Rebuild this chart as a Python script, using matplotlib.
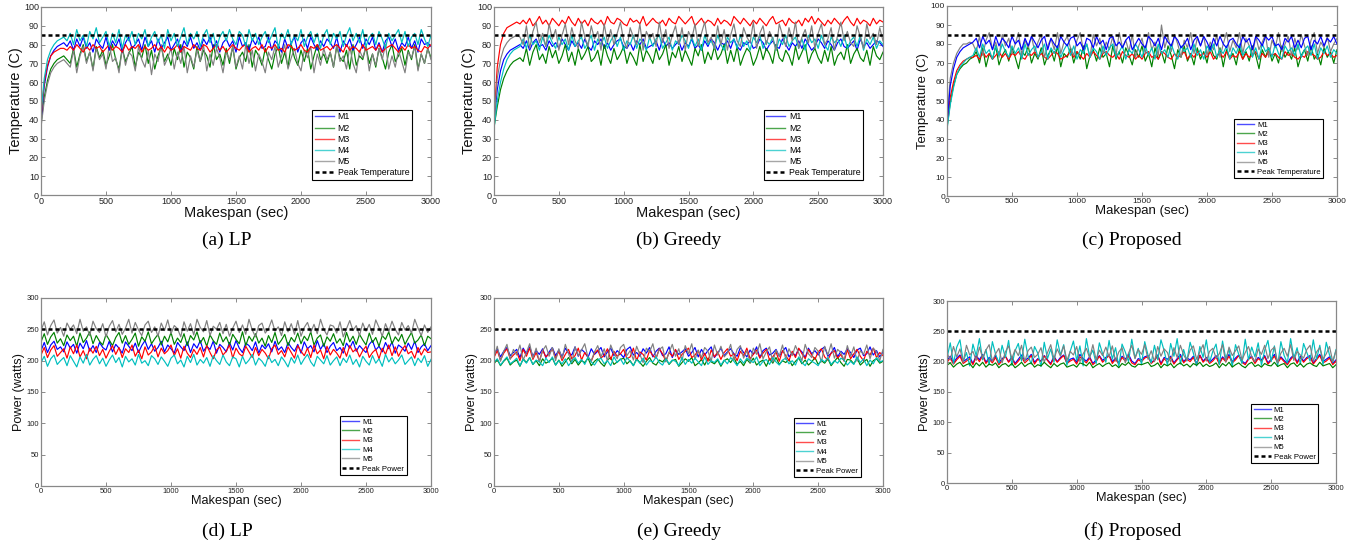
import matplotlib
matplotlib.use("Agg")
import matplotlib.pyplot as plt

plt.rcParams['font.family'] = ['Liberation Sans', 'DejaVu Sans']

# sample times (sec)
t_temp = list(range(0, 3001, 25))
t_pow = list(range(0, 3001, 25))

names = ['M1', 'M2', 'M3', 'M4', 'M5']
colors = ['#0000ff', '#008000', '#ff0000', '#00bfbf', '#808080']
peak_temp = 85
peak_pow = 250

# ---- (a) LP temperature ----
lp_t_m1 = [40, 58, 68, 74, 77, 79, 80, 81, 79,
           82, 77, 83, 79, 84, 78, 81, 76, 83, 80,
           78, 84, 77, 82, 79, 83, 76, 81, 84, 78,
           80, 83, 77, 84, 79, 82, 76, 83, 78, 81,
           84, 77, 80, 83, 76, 82, 79, 84, 78, 81,
           77, 83, 80, 84, 78, 82, 76, 81, 83, 79,
           82, 76, 84, 79, 81, 77, 83, 80, 84, 78,
           79, 84, 77, 82, 80, 76, 83, 78, 81, 84,
           76, 81, 83, 78, 84, 80, 77, 82, 79, 83,
           81, 78, 84, 76, 82, 79, 83, 77, 80, 84,
           78, 83, 80, 84, 77, 81, 76, 82, 84, 79,
           83, 77, 81, 79, 84, 78, 82, 76, 83, 80,
           81, 79]
lp_t_m2 = [38, 52, 61, 67, 70, 72, 73, 74, 72,
           70, 78, 68, 75, 80, 71, 76, 67, 79, 73,
           77, 69, 74, 80, 72, 67, 78, 71, 75, 79,
           68, 76, 73, 80, 70, 77, 67, 74, 79, 71,
           75, 69, 78, 72, 80, 68, 76, 73, 67, 79,
           71, 77, 74, 68, 80, 72, 75, 69, 78, 70,
           79, 67, 73, 76, 71, 80, 68, 77, 74, 69,
           78, 72, 67, 75, 79, 70, 76, 68, 80, 73,
           69, 77, 71, 78, 67, 74, 80, 72, 75, 70,
           76, 68, 79, 73, 71, 77, 67, 80, 69, 74,
           72, 79, 70, 75, 68, 78, 73, 67, 76, 80,
           71, 74, 78, 69, 77, 72, 80, 67, 75, 70,
           78, 73]
lp_t_m3 = [41, 60, 69, 74, 76, 77, 78, 78, 77,
           79, 77, 80, 78, 76, 79, 77, 80, 78, 79,
           76, 78, 80, 77, 79, 78, 76, 80, 77, 79,
           78, 80, 76, 79, 77, 78, 80, 77, 79, 76,
           79, 77, 78, 80, 76, 79, 78, 77, 80, 78,
           77, 80, 79, 76, 78, 80, 77, 79, 76, 78,
           80, 78, 77, 79, 80, 76, 78, 79, 77, 80,
           76, 79, 78, 80, 77, 78, 76, 80, 79, 77,
           78, 80, 77, 76, 79, 78, 80, 77, 78, 79,
           77, 79, 80, 78, 76, 80, 77, 79, 78, 76,
           80, 77, 78, 79, 77, 80, 76, 78, 79, 80,
           78, 76, 79, 77, 80, 78, 79, 77, 76, 79,
           78, 80]
lp_t_m4 = [43, 62, 72, 77, 80, 82, 83, 84, 82,
           86, 80, 88, 82, 85, 79, 87, 83, 89, 81,
           84, 87, 79, 86, 81, 88, 78, 85, 82, 87,
           80, 86, 83, 88, 79, 84, 87, 81, 85, 78,
           88, 82, 86, 79, 84, 89, 80, 86, 83, 87,
           79, 85, 88, 81, 86, 78, 84, 87, 82, 88,
           83, 80, 87, 85, 79, 88, 82, 86, 80, 84,
           87, 81, 85, 89, 78, 86, 83, 88, 80, 85,
           82, 88, 79, 84, 87, 81, 86, 78, 85, 88,
           80, 86, 83, 87, 79, 85, 89, 82, 86, 81,
           88, 79, 84, 86, 80, 87, 83, 78, 86, 82,
           85, 88, 81, 87, 79, 84, 86, 80, 88, 83,
           79, 85]
lp_t_m5 = [36, 50, 59, 65, 68, 70, 71, 72, 70,
           68, 77, 65, 74, 79, 70, 76, 66, 78, 72,
           75, 67, 80, 71, 73, 65, 78, 69, 76, 74,
           66, 79, 72, 68, 77, 64, 75, 71, 80, 69,
           73, 78, 67, 76, 70, 79, 65, 74, 68, 77,
           71, 80, 66, 75, 69, 78, 73, 65, 76, 72,
           79, 68, 74, 67, 80, 70, 77, 66, 75, 71,
           65, 76, 72, 79, 68, 74, 80, 67, 73, 78,
           70, 66, 77, 73, 79, 65, 75, 69, 78, 72,
           76, 68, 80, 71, 74, 67, 79, 70, 65, 77,
           73, 79, 66, 75, 69, 78, 72, 80, 67, 74,
           68, 77, 71, 65, 76, 73, 79, 66, 75, 70,
           78, 72]

# ---- (b) Greedy temperature ----
gr_t_m1 = [38, 56, 66, 72, 75, 77, 78, 79, 80,
           78, 82, 77, 81, 83, 79, 80, 77, 82, 79,
           81, 78, 83, 80, 77, 82, 79, 81, 78, 83,
           79, 77, 82, 80, 83, 78, 81, 77, 80, 82,
           83, 79, 78, 81, 77, 82, 80, 83, 78, 79,
           80, 82, 77, 83, 79, 81, 78, 80, 82, 77,
           81, 79, 83, 78, 80, 77, 82, 79, 83, 81,
           77, 81, 80, 82, 78, 83, 79, 77, 81, 80,
           82, 78, 79, 83, 81, 77, 80, 82, 79, 78,
           83, 80, 77, 81, 79, 82, 78, 83, 80, 77,
           79, 83, 81, 78, 82, 80, 77, 81, 83, 79,
           78, 80, 82, 77, 83, 79, 81, 78, 80, 82,
           81, 79]
gr_t_m2 = [36, 47, 56, 62, 66, 69, 71, 72, 73,
           71, 78, 69, 76, 80, 72, 75, 70, 79, 73,
           77, 70, 74, 80, 71, 76, 69, 78, 72, 75,
           79, 71, 73, 77, 69, 80, 74, 70, 78, 72,
           75, 79, 70, 76, 73, 69, 80, 71, 77, 74,
           70, 78, 72, 75, 80, 69, 76, 73, 79, 71,
           77, 73, 69, 78, 74, 80, 70, 76, 72, 79,
           72, 75, 80, 70, 77, 71, 79, 69, 74, 78,
           76, 69, 73, 79, 72, 78, 75, 70, 80, 73,
           71, 77, 74, 69, 79, 72, 76, 80, 70, 75,
           78, 73, 70, 77, 71, 79, 69, 74, 76, 72,
           80, 70, 75, 78, 73, 71, 77, 69, 79, 74,
           72, 76]
gr_t_m3 = [40, 68, 80, 86, 89, 90, 91, 92, 91,
           93, 91, 94, 90, 92, 95, 91, 93, 90, 94,
           92, 90, 93, 91, 95, 92, 90, 94, 91, 93,
           90, 94, 92, 91, 93, 90, 95, 92, 91, 94,
           93, 91, 90, 94, 92, 93, 91, 95, 90, 92,
           94, 92, 91, 93, 90, 94, 92, 91, 95, 93,
           91, 93, 95, 90, 92, 94, 91, 93, 92, 90,
           94, 91, 93, 92, 90, 95, 93, 91, 94, 92,
           90, 93, 91, 94, 92, 90, 93, 95, 91, 92,
           93, 90, 94, 92, 91, 93, 90, 94, 92, 95,
           91, 94, 92, 90, 93, 91, 94, 92, 90, 93,
           95, 92, 90, 94, 91, 93, 92, 90, 94, 91,
           93, 92]
gr_t_m4 = [35, 50, 60, 67, 72, 75, 77, 78, 79,
           83, 78, 85, 80, 82, 77, 84, 79, 85, 81,
           78, 84, 80, 83, 77, 85, 79, 82, 84, 78,
           81, 85, 77, 83, 80, 84, 78, 82, 85, 79,
           84, 77, 82, 80, 85, 78, 83, 81, 77, 84,
           79, 83, 85, 78, 81, 84, 77, 82, 80, 85,
           82, 78, 84, 79, 83, 77, 85, 80, 82, 78,
           85, 80, 77, 84, 81, 83, 78, 85, 79, 82,
           77, 84, 81, 85, 78, 82, 80, 84, 77, 83,
           80, 85, 79, 82, 84, 78, 83, 77, 85, 81,
           83, 78, 85, 80, 77, 84, 81, 83, 79, 85,
           78, 82, 84, 79, 85, 77, 83, 80, 84, 78,
           82, 80]
gr_t_m5 = [38, 62, 72, 78, 81, 83, 84, 85, 84,
           80, 90, 78, 87, 92, 81, 86, 79, 91, 83,
           88, 77, 85, 91, 80, 89, 82, 78, 92, 84,
           79, 90, 83, 87, 77, 91, 81, 88, 80, 86,
           92, 82, 78, 89, 84, 80, 91, 77, 87, 83,
           86, 79, 92, 81, 88, 78, 85, 90, 80, 89,
           77, 87, 83, 91, 79, 86, 92, 81, 84, 78,
           90, 80, 88, 77, 85, 91, 82, 79, 89, 84,
           81, 92, 78, 86, 90, 80, 87, 83, 77, 91,
           85, 79, 89, 82, 92, 78, 84, 88, 81, 90,
           78, 86, 91, 80, 83, 89, 77, 85, 92, 82,
           87, 81, 79, 90, 84, 78, 91, 83, 86, 80,
           89, 82]

# ---- (c) Proposed temperature ----
pr_t_m1 = [38, 58, 67, 73, 76, 78, 79, 80, 81,
           83, 78, 84, 80, 82, 77, 84, 79, 83, 81,
           78, 84, 80, 82, 77, 83, 79, 84, 81, 78,
           82, 84, 77, 83, 80, 78, 84, 81, 79, 83,
           84, 79, 81, 77, 83, 82, 78, 84, 80, 82,
           77, 83, 84, 79, 81, 78, 82, 84, 77, 80,
           83, 80, 78, 84, 82, 79, 83, 77, 84, 81,
           79, 84, 82, 78, 80, 83, 77, 82, 84, 79,
           84, 81, 77, 83, 79, 84, 80, 78, 82, 83,
           80, 78, 84, 81, 83, 77, 84, 82, 79, 84,
           82, 84, 79, 80, 77, 83, 81, 84, 78, 82,
           78, 83, 84, 77, 82, 80, 84, 79, 83, 81,
           84, 80]
pr_t_m2 = [36, 49, 58, 64, 67, 69, 70, 72, 73,
           76, 70, 78, 68, 75, 72, 79, 69, 74, 77,
           71, 78, 73, 67, 76, 74, 79, 70, 75, 72,
           78, 69, 74, 77, 71, 79, 68, 75, 73, 78,
           70, 76, 72, 79, 67, 74, 77, 71, 78, 73,
           75, 68, 79, 72, 76, 70, 78, 74, 69, 77,
           73, 79, 71, 75, 68, 78, 72, 76, 70, 79,
           74, 67, 77, 73, 79, 71, 75, 69, 78, 72,
           76, 70, 79, 74, 72, 78, 68, 77, 73, 75,
           69, 78, 72, 76, 71, 79, 74, 67, 77, 73,
           78, 71, 75, 70, 79, 73, 76, 72, 78, 68,
           74, 77, 71, 79, 72, 75, 69, 78, 73, 76,
           70, 77]
pr_t_m3 = [37, 52, 60, 66, 69, 71, 72, 73, 73,
           74, 72, 76, 73, 75, 72, 74, 76, 73, 75,
           72, 75, 74, 76, 73, 72, 75, 74, 76, 73,
           75, 73, 72, 74, 76, 75, 72, 73, 74, 76,
           73, 76, 74, 72, 75, 73, 76, 74, 72, 75,
           76, 74, 73, 75, 72, 76, 74, 73, 75, 72,
           74, 72, 75, 76, 73, 74, 72, 76, 75, 73,
           72, 75, 73, 74, 76, 72, 75, 73, 76, 74,
           75, 73, 76, 72, 74, 75, 73, 76, 72, 74,
           73, 76, 72, 75, 73, 74, 76, 72, 75, 73,
           76, 74, 75, 73, 72, 76, 74, 75, 73, 72,
           74, 73, 76, 75, 74, 72, 73, 76, 74, 75,
           73, 74]
pr_t_m4 = [35, 48, 57, 64, 68, 70, 72, 73, 74,
           78, 73, 80, 75, 77, 72, 79, 74, 80, 76,
           73, 79, 75, 78, 72, 80, 74, 77, 79, 73,
           76, 80, 72, 78, 75, 79, 73, 77, 80, 74,
           79, 72, 77, 75, 80, 73, 78, 76, 72, 79,
           74, 78, 80, 73, 76, 79, 72, 77, 75, 80,
           77, 73, 79, 74, 78, 72, 80, 75, 77, 73,
           80, 75, 72, 79, 76, 78, 73, 80, 74, 77,
           72, 79, 76, 80, 73, 77, 75, 79, 72, 78,
           75, 80, 74, 77, 79, 73, 78, 72, 80, 76,
           78, 73, 80, 75, 72, 79, 76, 78, 74, 80,
           73, 77, 79, 74, 80, 72, 78, 75, 79, 73,
           77, 75]
pr_t_m5 = [40, 62, 70, 75, 78, 80, 80, 81, 80,
           76, 84, 74, 82, 86, 77, 81, 73, 85, 79,
           83, 75, 80, 86, 74, 82, 78, 84, 76, 81,
           85, 73, 79, 83, 77, 86, 75, 81, 84, 78,
           74, 82, 86, 76, 80, 73, 85, 79, 83, 75,
           81, 77, 84, 74, 86, 78, 82, 76, 85, 73,
           79, 83, 75, 86, 77, 81, 74, 90, 78, 84,
           76, 85, 80, 73, 82, 78, 86, 75, 83, 79,
           84, 74, 81, 77, 85, 73, 80, 86, 76, 82,
           78, 86, 75, 83, 79, 74, 84, 77, 81, 85,
           73, 82, 78, 86, 76, 80, 84, 74, 83, 77,
           85, 79, 74, 82, 86, 75, 81, 78, 84, 76,
           80, 83]

# ---- (d) LP power ----
lp_p_m1 = [216, 229, 213, 225, 231, 218, 222, 214, 230, 220,
           226, 212, 228, 219, 232, 215, 224, 213, 229, 221,
           217, 231, 214, 226, 220, 212, 230, 223, 216, 228,
           213, 224, 232, 218, 227, 215, 221, 231, 214, 225,
           219, 212, 229, 222, 216, 230, 213, 227, 220, 232,
           215, 223, 218, 231, 212, 226, 221, 214, 229, 217,
           232, 220, 213, 228, 224, 216, 230, 212, 225, 219,
           227, 214, 231, 217, 222, 213, 229, 221, 215, 226,
           212, 230, 219, 224, 214, 232, 218, 227, 213, 223,
           229, 216, 221, 212, 228, 220, 231, 215, 224, 218,
           213, 226, 232, 217, 223, 214, 229, 219, 230, 212,
           225, 221, 215, 228, 218, 231, 213, 222, 227, 216,
           224]
lp_p_m2 = [230, 243, 226, 238, 245, 228, 235, 224, 241, 232,
           239, 223, 244, 229, 236, 246, 227, 240, 231, 225,
           242, 233, 224, 237, 245, 228, 240, 226, 234, 244,
           223, 238, 231, 246, 227, 235, 242, 225, 239, 230,
           245, 226, 236, 229, 243, 224, 240, 233, 246, 228,
           237, 223, 241, 232, 226, 244, 230, 238, 225, 242,
           234, 227, 246, 224, 239, 231, 243, 228, 236, 223,
           240, 229, 245, 226, 233, 242, 224, 237, 230, 244,
           227, 239, 232, 246, 225, 236, 241, 223, 238, 231,
           243, 228, 235, 224, 245, 230, 239, 226, 242, 233,
           225, 244, 229, 237, 223, 240, 234, 246, 227, 238,
           231, 242, 226, 236, 245, 228, 233, 241, 224, 239,
           235]
lp_p_m3 = [209, 221, 205, 217, 224, 207, 213, 219, 204, 222,
           211, 225, 206, 216, 203, 220, 212, 223, 208, 218,
           204, 215, 224, 210, 221, 205, 219, 213, 225, 207,
           217, 203, 222, 209, 214, 224, 206, 220, 211, 216,
           225, 208, 219, 204, 223, 212, 205, 218, 210, 221,
           206, 224, 213, 203, 217, 222, 209, 215, 225, 204,
           220, 211, 207, 223, 214, 205, 221, 208, 218, 212,
           203, 219, 225, 210, 216, 206, 222, 213, 204, 224,
           215, 208, 220, 205, 225, 211, 217, 203, 223, 209,
           218, 212, 204, 221, 207, 224, 214, 219, 206, 216,
           223, 205, 213, 218, 203, 220, 210, 225, 208, 222,
           207, 217, 224, 211, 215, 204, 221, 209, 219, 213,
           214]
lp_p_m4 = [197, 207, 191, 203, 209, 194, 200, 205, 192, 208,
           199, 190, 206, 196, 210, 193, 202, 208, 195, 204,
           191, 201, 209, 197, 205, 190, 207, 198, 203, 193,
           210, 196, 200, 192, 208, 203, 194, 206, 199, 191,
           204, 209, 195, 201, 190, 207, 197, 210, 193, 202,
           196, 205, 191, 208, 200, 194, 209, 198, 192, 206,
           203, 190, 207, 195, 201, 210, 193, 204, 199, 191,
           208, 197, 202, 192, 206, 199, 190, 205, 196, 209,
           194, 203, 210, 198, 191, 207, 201, 195, 208, 193,
           200, 206, 192, 204, 197, 209, 194, 202, 190, 207,
           199, 193, 208, 196, 203, 191, 210, 198, 205, 195,
           201, 209, 194, 200, 206, 192, 204, 197, 208, 191,
           202]
lp_p_m5 = [248, 262, 241, 256, 265, 244, 253, 239, 260, 250,
           257, 243, 266, 247, 254, 240, 263, 251, 245, 259,
           238, 255, 264, 246, 258, 242, 252, 266, 244, 261,
           249, 240, 257, 263, 245, 254, 239, 260, 248, 265,
           243, 256, 251, 238, 262, 247, 259, 241, 266, 253,
           246, 264, 240, 255, 250, 261, 243, 258, 239, 252,
           263, 245, 257, 242, 266, 249, 238, 256, 260, 244,
           251, 265, 247, 254, 240, 262, 246, 259, 242, 264,
           239, 253, 261, 245, 258, 243, 266, 250, 241, 257,
           255, 244, 262, 238, 251, 264, 248, 256, 240, 260,
           247, 258, 242, 265, 253, 239, 259, 246, 263, 250,
           241, 261, 249, 256, 244, 266, 252, 240, 257, 245,
           254]

# ---- (e) Greedy power ----
gr_p_m1 = [209, 219, 206, 215, 221, 208, 213, 218, 205, 220,
           211, 222, 207, 216, 210, 219, 205, 214, 221, 208,
           217, 206, 220, 212, 209, 222, 207, 218, 213, 205,
           219, 210, 215, 221, 206, 214, 220, 208, 216, 211,
           205, 218, 222, 209, 213, 207, 219, 212, 221, 206,
           215, 220, 208, 211, 222, 205, 217, 210, 214, 219,
           207, 213, 221, 206, 218, 209, 216, 222, 205, 212,
           220, 208, 214, 219, 211, 207, 221, 213, 206, 217,
           210, 222, 205, 216, 220, 209, 212, 218, 207, 215,
           221, 206, 213, 208, 219, 214, 205, 220, 211, 216,
           209, 218, 222, 207, 212, 221, 206, 215, 210, 219,
           213, 205, 217, 220, 208, 211, 222, 209, 216, 206,
           214]
gr_p_m2 = [195, 202, 192, 199, 204, 193, 198, 201, 191, 203,
           197, 205, 194, 200, 192, 203, 196, 199, 204, 193,
           201, 191, 198, 205, 195, 202, 193, 200, 197, 204,
           192, 199, 203, 196, 191, 201, 205, 194, 198, 202,
           204, 195, 200, 192, 203, 197, 191, 199, 205, 196,
           193, 201, 198, 204, 194, 200, 202, 191, 197, 203,
           199, 205, 192, 196, 202, 193, 204, 198, 195, 201,
           191, 200, 203, 197, 205, 194, 199, 192, 202, 196,
           204, 193, 198, 201, 191, 203, 196, 205, 194, 200,
           197, 202, 192, 199, 204, 195, 201, 193, 198, 205,
           194, 200, 196, 203, 192, 199, 205, 197, 191, 202,
           201, 195, 204, 193, 198, 202, 191, 200, 203, 196,
           199]
gr_p_m3 = [205, 216, 201, 212, 219, 203, 209, 214, 200, 218,
           207, 220, 202, 213, 199, 217, 206, 211, 219, 204,
           215, 200, 210, 218, 203, 208, 220, 201, 213, 206,
           199, 212, 217, 204, 209, 219, 202, 215, 207, 211,
           218, 203, 206, 220, 200, 214, 210, 201, 216, 208,
           204, 219, 211, 199, 213, 207, 218, 202, 210, 215,
           220, 205, 209, 216, 201, 212, 199, 217, 206, 214,
           202, 213, 219, 207, 211, 200, 215, 208, 220, 203,
           210, 217, 204, 212, 218, 201, 206, 214, 199, 216,
           208, 200, 215, 205, 220, 211, 203, 218, 209, 202,
           214, 219, 206, 201, 212, 216, 204, 210, 199, 217,
           203, 211, 218, 207, 200, 215, 209, 220, 205, 213,
           208]
gr_p_m4 = [197, 203, 193, 200, 206, 195, 199, 204, 192, 202,
           196, 205, 194, 201, 198, 192, 204, 197, 206, 193,
           200, 195, 203, 192, 199, 205, 196, 202, 194, 206,
           198, 193, 201, 204, 195, 200, 192, 206, 197, 203,
           194, 205, 199, 192, 202, 196, 204, 193, 200, 198,
           206, 197, 193, 203, 195, 201, 199, 192, 205, 194,
           202, 196, 204, 198, 192, 206, 194, 200, 197, 203,
           193, 201, 195, 205, 199, 192, 203, 196, 204, 200,
           197, 206, 192, 199, 202, 194, 205, 198, 193, 201,
           204, 195, 200, 193, 206, 197, 192, 203, 199, 196,
           192, 202, 198, 205, 194, 200, 196, 204, 201, 193,
           199, 194, 206, 197, 203, 192, 201, 195, 205, 198,
           200]
gr_p_m5 = [206, 223, 199, 215, 226, 202, 218, 209, 225, 201,
           213, 227, 204, 220, 198, 216, 224, 207, 221, 200,
           219, 203, 226, 211, 197, 222, 208, 217, 227, 205,
           200, 214, 224, 206, 219, 199, 225, 212, 203, 221,
           226, 208, 216, 201, 223, 210, 197, 220, 214, 227,
           204, 218, 222, 198, 213, 226, 207, 219, 200, 224,
           211, 227, 202, 217, 205, 221, 215, 199, 225, 209,
           223, 206, 212, 226, 201, 218, 224, 204, 216, 197,
           220, 210, 227, 203, 214, 222, 198, 217, 207, 225,
           202, 219, 208, 224, 212, 200, 226, 211, 205, 221,
           215, 198, 223, 209, 227, 204, 218, 213, 201, 224,
           207, 222, 199, 216, 210, 225, 203, 220, 214, 200,
           218]

# ---- (f) Proposed power ----
pr_p_m1 = [202, 209, 198, 206, 211, 200, 204, 208, 197, 210,
           203, 212, 199, 207, 201, 210, 198, 205, 209, 200,
           208, 197, 204, 211, 202, 206, 212, 199, 205, 201,
           210, 203, 197, 209, 200, 207, 211, 198, 204, 206,
           199, 212, 205, 201, 208, 197, 203, 210, 202, 207,
           211, 200, 206, 198, 209, 204, 212, 201, 197, 205,
           203, 208, 210, 199, 202, 211, 197, 207, 204, 209,
           198, 205, 212, 200, 206, 203, 209, 197, 211, 201,
           207, 199, 204, 210, 198, 208, 202, 212, 200, 206,
           211, 201, 197, 205, 209, 199, 207, 203, 210, 198,
           204, 212, 200, 208, 202, 197, 206, 211, 199, 209,
           201, 207, 210, 198, 205, 212, 200, 204, 208, 197,
           203]
pr_p_m2 = [194, 198, 191, 196, 199, 192, 195, 197, 190, 198,
           193, 199, 191, 196, 194, 198, 190, 195, 197, 192,
           197, 190, 194, 199, 192, 196, 198, 191, 195, 193,
           199, 194, 190, 197, 192, 196, 198, 191, 193, 195,
           191, 198, 196, 193, 199, 190, 194, 197, 192, 196,
           198, 192, 195, 190, 197, 194, 199, 193, 191, 196,
           195, 197, 199, 192, 194, 198, 190, 196, 193, 197,
           190, 195, 198, 193, 196, 191, 197, 194, 199, 192,
           196, 192, 194, 198, 190, 197, 193, 199, 191, 195,
           198, 193, 190, 196, 199, 192, 195, 191, 197, 194,
           193, 199, 192, 195, 197, 190, 196, 198, 192, 197,
           191, 196, 198, 194, 192, 199, 193, 195, 197, 190,
           195]
pr_p_m3 = [199, 206, 196, 203, 209, 197, 201, 205, 195, 208,
           200, 210, 197, 204, 198, 207, 195, 202, 209, 199,
           206, 195, 201, 208, 198, 203, 210, 196, 204, 200,
           209, 202, 195, 207, 199, 205, 210, 197, 201, 204,
           196, 208, 203, 198, 206, 195, 200, 209, 199, 205,
           210, 197, 204, 196, 207, 201, 209, 198, 195, 203,
           200, 206, 208, 197, 202, 210, 195, 205, 199, 207,
           196, 203, 209, 198, 204, 200, 207, 195, 210, 199,
           205, 197, 201, 208, 196, 206, 200, 209, 198, 203,
           210, 199, 195, 204, 207, 197, 205, 201, 208, 196,
           202, 209, 198, 206, 200, 195, 203, 210, 197, 207,
           199, 205, 208, 196, 203, 210, 198, 201, 206, 195,
           201]
pr_p_m4 = [206, 231, 197, 224, 236, 200, 215, 193, 229, 210,
           238, 203, 220, 195, 233, 212, 198, 227, 207, 235,
           194, 218, 230, 201, 237, 209, 196, 225, 214, 192,
           232, 205, 221, 199, 236, 211, 228, 194, 217, 234,
           202, 226, 193, 238, 208, 219, 197, 231, 213, 199,
           235, 204, 223, 192, 229, 216, 200, 237, 206, 222,
           195, 233, 211, 198, 227, 203, 236, 218, 194, 230,
           209, 238, 196, 220, 201, 232, 214, 193, 225, 207,
           236, 199, 217, 229, 195, 234, 205, 221, 192, 228,
           212, 197, 237, 203, 224, 208, 231, 194, 219, 235,
           200, 226, 193, 233, 210, 198, 238, 206, 223, 196,
           230, 215, 201, 236, 204, 227, 195, 232, 211, 199,
           220]
pr_p_m5 = [214, 203, 225, 208, 221, 199, 227, 211, 217, 202,
           224, 206, 219, 228, 201, 213, 222, 198, 216, 226,
           205, 220, 210, 227, 200, 218, 224, 207, 212, 223,
           199, 215, 228, 204, 221, 209, 226, 202, 217, 211,
           225, 200, 213, 222, 206, 228, 203, 219, 210, 224,
           208, 226, 201, 216, 223, 198, 214, 227, 205, 220,
           212, 228, 204, 218, 200, 225, 209, 221, 215, 199,
           223, 207, 227, 211, 202, 219, 226, 204, 216, 228,
           201, 217, 222, 206, 213, 228, 199, 224, 210, 218,
           226, 203, 215, 225, 208, 200, 221, 212, 227, 205,
           219, 224, 198, 214, 222, 209, 228, 202, 217, 211,
           206, 220, 227, 201, 216, 223, 204, 213, 225, 200,
           218]

captions = ['(a) LP', '(b) Greedy', '(c) Proposed',
            '(d) LP', '(e) Greedy', '(f) Proposed']

fig = plt.figure(figsize=(13.59, 5.46), dpi=100)
W, H = 1359.0, 546.0


def make_ax(l, t, r, b):
    return fig.add_axes([l / W, 1 - b / H, (r - l) / W, (b - t) / H])


def draw(ax, t, series, order, peak, peak_label, ylim, ystep, ylabel,
         fs_tick, fs_lab, fs_leg, leg_anchor):
    handles = [None] * 5
    for i in order:
        ln, = ax.plot(t, series[i], color=colors[i], lw=0.85)
        handles[i] = ln
    pk = ax.axhline(peak, color='black', lw=1.8, dashes=(1.6, 1.2))
    ax.set_xlim(0, 3000)
    ax.set_ylim(0, ylim)
    ax.set_xticks(range(0, 3001, 500))
    ax.set_yticks(range(0, ylim + 1, ystep))
    ax.tick_params(direction='in', top=True, right=True, length=3,
                   width=0.6, color='#777777', labelsize=fs_tick,
                   labelcolor='#222222', pad=1.5)
    for s in ax.spines.values():
        s.set_color('#888888')
        s.set_linewidth(0.9)
    ax.set_xlabel('Makespan (sec)', fontsize=fs_lab, labelpad=0, color='#111111')
    ax.set_ylabel(ylabel, fontsize=fs_lab, labelpad=1, color='#111111')
    leg = ax.legend(handles + [pk], names + [peak_label], loc='lower right',
                    bbox_to_anchor=leg_anchor, fontsize=fs_leg, fancybox=False,
                    framealpha=1, edgecolor='black', borderpad=0.3,
                    labelspacing=0.25, handlelength=2.2, handletextpad=0.4,
                    borderaxespad=0)
    leg.get_frame().set_linewidth(0.8)
    for ln in leg.get_lines()[:5]:
        ln.set_linewidth(1.0)
        ln.set_alpha(0.7)


ax_a = make_ax(41, 7, 431, 195)
draw(ax_a, t_temp, [lp_t_m1, lp_t_m2, lp_t_m3, lp_t_m4, lp_t_m5], [1, 4, 0, 2, 3],
     peak_temp, 'Peak Temperature', 100, 10, 'Temperature (C)', 6.5, 10.5, 6.3,
     (0.951, 0.08))
ax_b = make_ax(494, 7, 883, 195)
draw(ax_b, t_temp, [gr_t_m1, gr_t_m2, gr_t_m3, gr_t_m4, gr_t_m5], [0, 1, 2, 3, 4],
     peak_temp, 'Peak Temperature', 100, 10, 'Temperature (C)', 6.5, 10.5, 6.3,
     (0.949, 0.08))
ax_c = make_ax(947, 6, 1337, 196)
draw(ax_c, t_temp, [pr_t_m1, pr_t_m2, pr_t_m3, pr_t_m4, pr_t_m5], [1, 2, 4, 3, 0],
     peak_temp, 'Peak Temperature', 100, 10, 'Temperature (C)', 6.0, 9.5, 5.6,
     (0.964, 0.095))
ax_d = make_ax(41, 298, 431, 486)
draw(ax_d, t_pow, [lp_p_m1, lp_p_m2, lp_p_m3, lp_p_m4, lp_p_m5], [0, 1, 2, 3, 4],
     peak_pow, 'Peak Power', 300, 50, 'Power (watts)', 5.5, 9.2, 5.6,
     (0.938, 0.059))
ax_e = make_ax(494, 298, 883, 486)
draw(ax_e, t_pow, [gr_p_m1, gr_p_m2, gr_p_m3, gr_p_m4, gr_p_m5], [1, 0, 2, 4, 3],
     peak_pow, 'Peak Power', 300, 50, 'Power (watts)', 5.5, 9.2, 5.6,
     (0.943, 0.048))
ax_f = make_ax(947, 301, 1336, 483)
draw(ax_f, t_pow, [pr_p_m1, pr_p_m2, pr_p_m3, pr_p_m4, pr_p_m5], [0, 2, 3, 4, 1],
     peak_pow, 'Peak Power', 300, 50, 'Power (watts)', 5.5, 9.2, 5.6,
     (0.954, 0.11))

cap_pos = [(227, 240), (679, 240), (1132, 240), (227, 531), (679, 531), (1133, 531)]
for txt, (cx, cy) in zip(captions, cap_pos):
    fig.text(cx / W, 1 - cy / H, txt, ha='center', va='center', fontsize=14,
             family=['Liberation Serif', 'DejaVu Serif'])

fig.savefig('out.png', dpi=100)
